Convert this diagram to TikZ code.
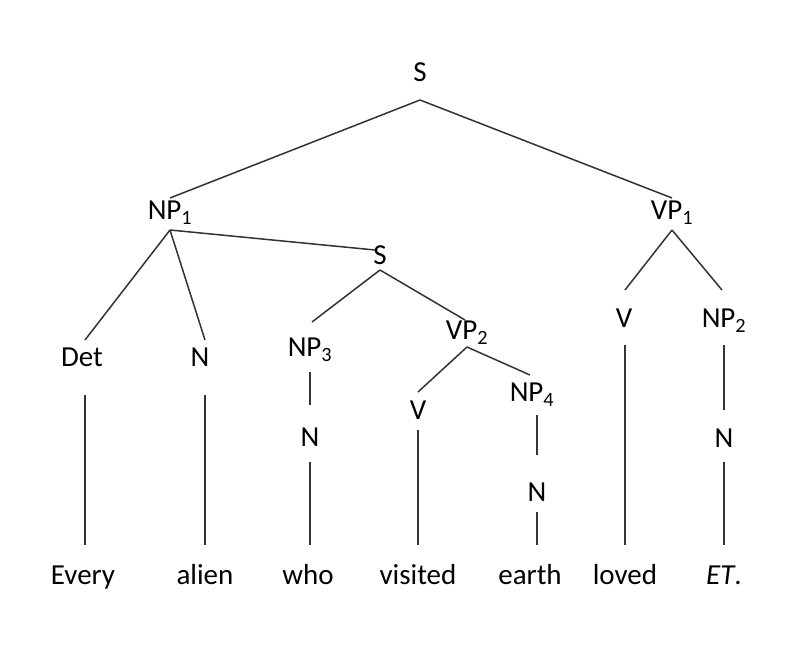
\documentclass[tikz,border=0pt]{standalone}
\usepackage{fontspec}
\setmainfont{Carlito}
\newcommand{\sbs}[1]{\textsubscript{#1}}
\begin{document}
\begin{tikzpicture}[x=1pt,y=-1pt,
  lab/.style={font=\fontsize{29}{34}\selectfont, inner sep=0pt, anchor=base},
  ln/.style={line width=1.5pt, black!80}]
\useasboundingbox (0,0) rectangle (807,660);
\fill[white] (0,0) rectangle (807,660);
\node[lab] (S) at (420,82) {S};
\node[lab] (NP1) at (170,220) {NP\sbs{1}};
\node[lab] (VP1) at (672,220) {VP\sbs{1}};
\node[lab] (S2) at (380,265) {S};
\node[lab] (Det) at (82,367) {Det};
\node[lab] (N1) at (200,367) {N};
\node[lab] (NP3) at (310,357) {NP\sbs{3}};
\node[lab] (VP2) at (467,340) {VP\sbs{2}};
\node[lab] (V2) at (418,420) {V};
\node[lab] (NP4) at (532,402) {NP\sbs{4}};
\node[lab] (V1) at (624,328) {V};
\node[lab] (NP2) at (724,328) {NP\sbs{2}};
\node[lab] (N3) at (310,447) {N};
\node[lab] (N4) at (537,502) {N};
\node[lab] (N2) at (724,448) {N};
\node[lab] (w1) at (83,585) {Every};
\node[lab] (w2) at (205,585) {alien};
\node[lab] (w3) at (308,585) {who};
\node[lab] (w4) at (418,585) {visited};
\node[lab] (w5) at (530,585) {earth};
\node[lab] (w6) at (625,585) {loved};
\node[lab] (w7) at (724,585) {\textit{ET}.};
\coordinate (s0) at (420,100);
\coordinate (np1b) at (170,230);
\coordinate (vp1b) at (672,230);
\coordinate (s2b) at (380,270);
\coordinate (vp2b) at (467,347);
\draw[ln] (s0) -- (170,198);
\draw[ln] (s0) -- (672,198);
\draw[ln] (np1b) -- (85,340);
\draw[ln] (np1b) -- (205,340);
\draw[ln] (np1b) -- (375,250);
\draw[ln] (s2b) -- (312,322);
\draw[ln] (s2b) -- (465,320);
\draw[ln] (vp2b) -- (418,392);
\draw[ln] (vp2b) -- (530,375);
\draw[ln] (vp1b) -- (625,290);
\draw[ln] (vp1b) -- (722,290);
\draw[ln] (85,395) -- (85,545);
\draw[ln] (205,395) -- (205,545);
\draw[ln] (310,372) -- (310,405);
\draw[ln] (310,462) -- (310,545);
\draw[ln] (418,430) -- (418,545);
\draw[ln] (537,415) -- (537,455);
\draw[ln] (537,512) -- (537,545);
\draw[ln] (625,345) -- (625,545);
\draw[ln] (724,345) -- (724,410);
\draw[ln] (724,462) -- (724,545);
\end{tikzpicture}
\end{document}
